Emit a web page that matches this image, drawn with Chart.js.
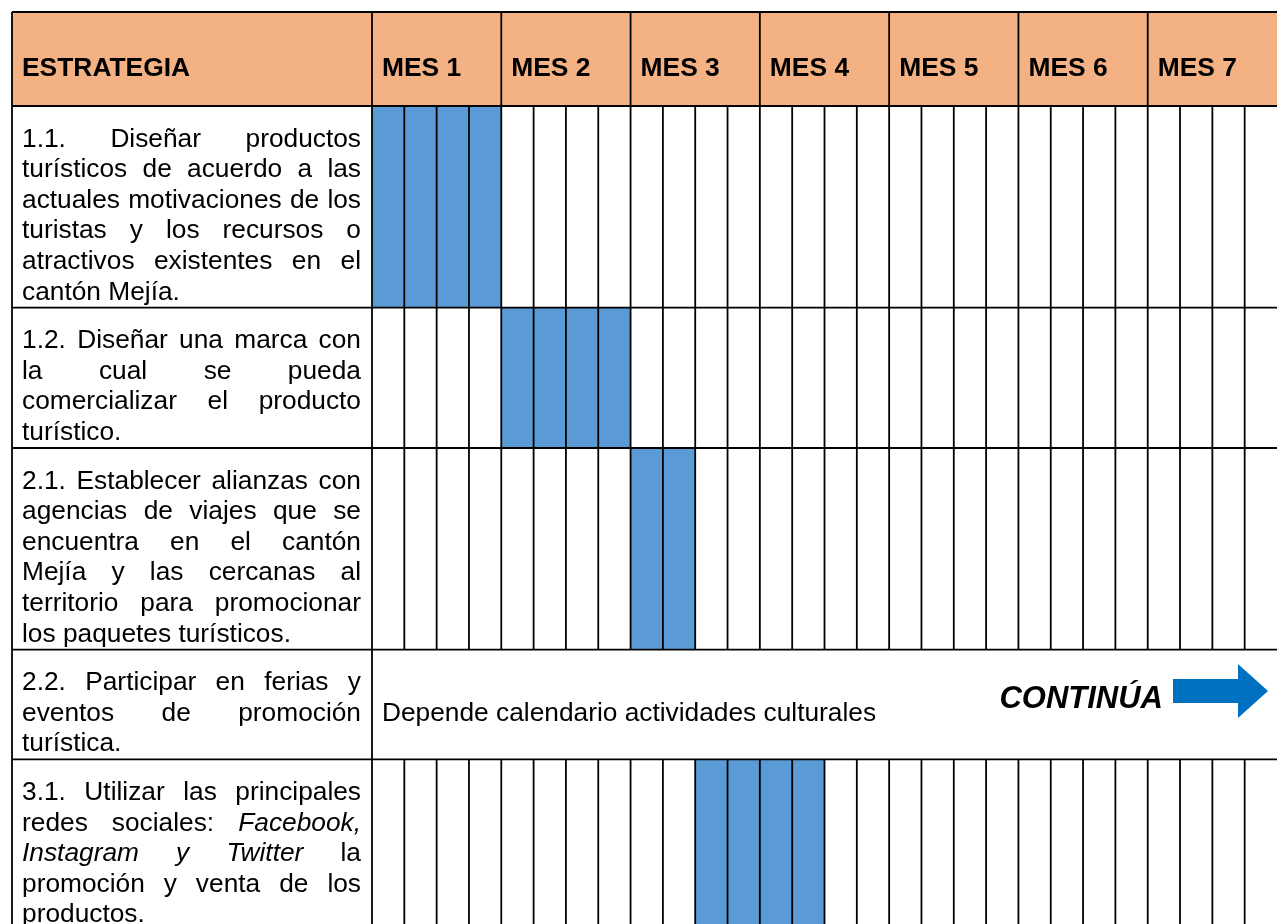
<!DOCTYPE html>
<html lang="es">
<head>
<meta charset="UTF-8">
<title>Cronograma de estrategias</title>
<script src="https://cdn.jsdelivr.net/npm/chart.js"></script>
<style>
  html, body { margin: 0; padding: 0; background: #fff; overflow: hidden; }
  #wrap { position: relative; width: 1277px; height: 924px; }
</style>
</head>
<body>
<div id="wrap"><canvas id="cronograma"></canvas></div>
<script>
// meses del cronograma, 4 semanas cada uno
const meses = ['MES 1', 'MES 2', 'MES 3', 'MES 4', 'MES 5', 'MES 6', 'MES 7'];
const semanasPorMes = 4;

// texto de cada estrategia, un elemento por renglón (*palabra* = cursiva)
const estrategias = [
  ['1.1. Diseñar productos', 'turísticos de acuerdo a las', 'actuales motivaciones de los', 'turistas y los recursos o', 'atractivos existentes en el', 'cantón Mejía.'],
  ['1.2. Diseñar una marca con', 'la cual se pueda', 'comercializar el producto', 'turístico.'],
  ['2.1. Establecer alianzas con', 'agencias de viajes que se', 'encuentra en el cantón', 'Mejía y las cercanas al', 'territorio para promocionar', 'los paquetes turísticos.'],
  ['2.2. Participar en ferias y', 'eventos de promoción', 'turística.'],
  ['3.1. Utilizar las principales', 'redes sociales: *Facebook,*', '*Instagram* *y* *Twitter* la', 'promoción y venta de los', 'productos.']
];

// semana de inicio y de fin de cada estrategia (null = sin barra)
const semanaInicio = [0, 4, 8, null, 10];
const semanaFin    = [4, 8, 10, null, 14];

// filas sin semanas, con nota en la celda combinada
const notas = [null, null, null, 'Depende calendario actividades culturales', null];
const aviso = 'CONTINÚA';

// medidas de la tabla
const W = 1277, H = 924;
const LEFT = 12, TOP = 12, COL1 = 372, HEAD_BOTTOM = 106;
const LINE = 30.6, PAD = 18, TXT_LEFT = 22, TXT_RIGHT = 361;
const FAMILIA = '"Liberation Sans", Arial, sans-serif';
const NARANJA = '#F4B183', AZUL = '#5B9BD5';

const filaTop = [], filaAlto = [];
let acum = HEAD_BOTTOM;
estrategias.forEach(function(lineas) {
  filaTop.push(acum);
  filaAlto.push(lineas.length * LINE + PAD);
  acum += lineas.length * LINE + PAD;
});

function renglon(ctx, texto, x, y, ancho, justificar) {
  const palabras = texto.split(' ').map(function(p) {
    return { t: p.replace(/\*/g, ''), it: p.indexOf('*') === 0 };
  });
  let total = 0;
  palabras.forEach(function(p) {
    ctx.font = (p.it ? 'italic ' : '') + '26.3px ' + FAMILIA;
    p.w = ctx.measureText(p.t).width;
    total += p.w;
  });
  ctx.font = '26.3px ' + FAMILIA;
  let hueco = ctx.measureText(' ').width;
  if (justificar && palabras.length > 1) hueco = (ancho - total) / (palabras.length - 1);
  let cx = x;
  palabras.forEach(function(p) {
    ctx.font = (p.it ? 'italic ' : '') + '26.3px ' + FAMILIA;
    ctx.fillText(p.t, cx, y);
    cx += p.w + hueco;
  });
}

function linea(ctx, x1, y1, x2, y2) {
  ctx.beginPath();
  ctx.moveTo(x1, y1);
  ctx.lineTo(x2, y2);
  ctx.stroke();
}

const tablaPlugin = {
  id: 'tabla',
  beforeDraw(chart) {
    const ctx = chart.ctx;
    ctx.save();
    ctx.fillStyle = '#fff';
    ctx.fillRect(0, 0, W, H);
    ctx.fillStyle = NARANJA;
    ctx.fillRect(LEFT, TOP, W - LEFT, HEAD_BOTTOM - TOP);
    ctx.restore();
  },
  afterDatasetsDraw(chart) {
    const ctx = chart.ctx;
    const xs = chart.scales.x;
    const nSem = meses.length * semanasPorMes;
    ctx.save();
    ctx.strokeStyle = '#000';
    ctx.lineWidth = 1.8;

    // líneas horizontales
    linea(ctx, LEFT, TOP, W, TOP);
    linea(ctx, LEFT, HEAD_BOTTOM, W, HEAD_BOTTOM);
    filaTop.forEach(function(t, i) {
      linea(ctx, LEFT, t + filaAlto[i], W, t + filaAlto[i]);
    });
    // bordes verticales
    linea(ctx, LEFT, TOP, LEFT, H);
    linea(ctx, xs.getPixelForValue(0), TOP, xs.getPixelForValue(0), H);
    // meses en la cabecera
    for (let m = 1; m < meses.length; m++) {
      const px = xs.getPixelForValue(m * semanasPorMes);
      linea(ctx, px, TOP, px, HEAD_BOTTOM);
    }
    // semanas en cada fila
    filaTop.forEach(function(t, i) {
      if (notas[i] !== null) return;
      for (let s = 1; s < nSem; s++) {
        const px = xs.getPixelForValue(s);
        linea(ctx, px, t, px, Math.min(t + filaAlto[i], H));
      }
    });

    // textos de cabecera
    ctx.fillStyle = '#000';
    ctx.textBaseline = 'alphabetic';
    ctx.font = 'bold 26.4px ' + FAMILIA;
    ctx.fillText('ESTRATEGIA', TXT_LEFT, 76);
    meses.forEach(function(m, i) {
      ctx.fillText(m, xs.getPixelForValue(i * semanasPorMes) + 10, 76);
    });

    // textos de las estrategias
    estrategias.forEach(function(lineas, i) {
      lineas.forEach(function(l, j) {
        const ultima = j === lineas.length - 1;
        renglon(ctx, l, TXT_LEFT, filaTop[i] + 40.5 + j * LINE, TXT_RIGHT - TXT_LEFT, !ultima);
      });
      if (notas[i] !== null) {
        ctx.font = '26.3px ' + FAMILIA;
        ctx.fillText(notas[i], xs.getPixelForValue(0) + 10, filaTop[i] + 40.5 + LINE);
        // aviso y flecha
        ctx.font = 'italic bold 31px ' + FAMILIA;
        ctx.textAlign = 'right';
        ctx.fillText(aviso, 1163, filaTop[i] + 58);
        ctx.textAlign = 'left';
        const cy = filaTop[i] + 41.5;
        ctx.fillStyle = '#0070C0';
        ctx.beginPath();
        ctx.moveTo(1173, cy - 12);
        ctx.lineTo(1238, cy - 12);
        ctx.lineTo(1238, cy - 27);
        ctx.lineTo(1268, cy);
        ctx.lineTo(1238, cy + 27);
        ctx.lineTo(1238, cy + 12);
        ctx.lineTo(1173, cy + 12);
        ctx.closePath();
        ctx.fill();
        ctx.fillStyle = '#000';
      }
    });
    ctx.restore();
  }
};

const datasets = estrategias.map(function(lineas, i) {
  return {
    label: lineas.join(' ').replace(/\*/g, ''),
    data: semanaInicio[i] === null ? [] : [{ x: [semanaInicio[i], semanaFin[i]], y: filaTop[i] + filaAlto[i] / 2 }],
    backgroundColor: AZUL,
    borderWidth: 0,
    barThickness: filaAlto[i],
    grouped: false
  };
});

new Chart(document.getElementById('cronograma'), {
  type: 'bar',
  data: { datasets: datasets },
  options: {
    indexAxis: 'y',
    responsive: true,
    maintainAspectRatio: false,
    animation: false,
    layout: { padding: { left: COL1, right: 0, top: HEAD_BOTTOM, bottom: 0 } },
    plugins: { legend: { display: false }, tooltip: { enabled: false } },
    scales: {
      x: { type: 'linear', min: 0, max: meses.length * semanasPorMes, display: false },
      y: { type: 'linear', min: HEAD_BOTTOM, max: H, reverse: true, offset: false, display: false }
    }
  },
  plugins: [tablaPlugin]
});
</script>
</body>
</html>
